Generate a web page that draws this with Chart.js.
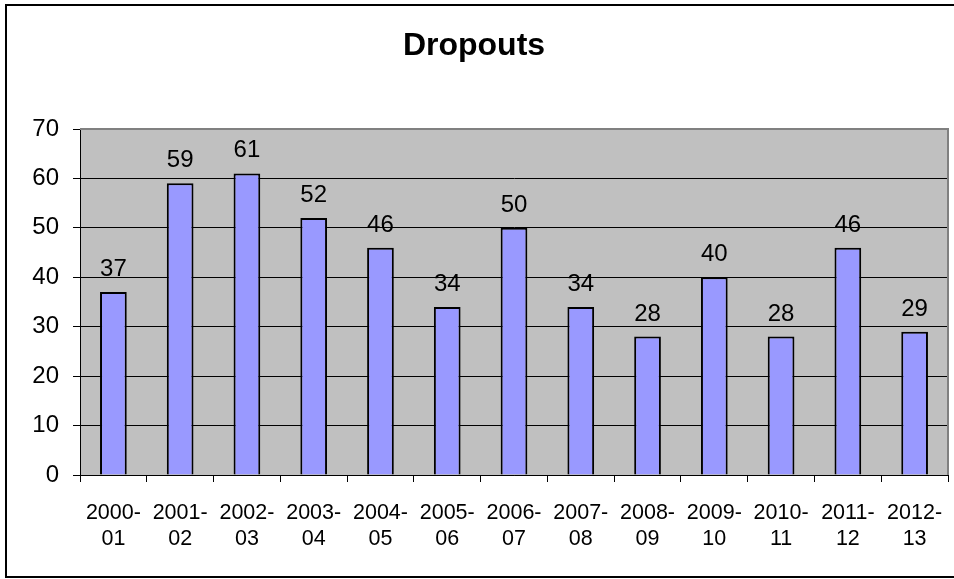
<!DOCTYPE html>
<html>
<head>
<meta charset="utf-8">
<script src="https://cdn.jsdelivr.net/npm/chart.js@4.4.1/dist/chart.umd.min.js"></script>
<style>
  html, body { margin: 0; padding: 0; background: #fff; }
  #wrap { width: 954px; height: 579px; position: relative; }
</style>
</head>
<body>
<div id="wrap"><canvas id="grafico"></canvas></div>
<script>
// datos
var years = [["2000-","01"],["2001-","02"],["2002-","03"],["2003-","04"],["2004-","05"],["2005-","06"],["2006-","07"],["2007-","08"],["2008-","09"],["2009-","10"],["2010-","11"],["2011-","12"],["2012-","13"]];
var dropouts = [37, 59, 61, 52, 46, 34, 50, 34, 28, 40, 28, 46, 29];
var yTicks = [0, 10, 20, 30, 40, 50, 60, 70];

var fuente = "Arial, 'Liberation Sans', sans-serif";

// fondo, marco y etiquetas de valores
var marco = {
  id: "marco",
  beforeDraw(chart) {
    const c = chart.ctx, a = chart.chartArea;
    c.save();
    c.fillStyle = "#fff";
    c.fillRect(0, 0, chart.width, chart.height);
    c.strokeStyle = "#000";
    c.lineWidth = 2;
    c.strokeRect(6, 5, 1000, 572);
    c.fillStyle = "#C0C0C0";
    c.fillRect(a.left, a.top, a.right - a.left, a.bottom - a.top);
    c.restore();
  },
  afterDraw(chart) {
    const c = chart.ctx, a = chart.chartArea;
    c.save();
    c.strokeStyle = "#808080";
    c.lineWidth = 2;
    c.beginPath();
    c.moveTo(a.left, a.top);
    c.lineTo(a.right, a.top);
    c.lineTo(a.right, a.bottom);
    c.stroke();
    c.restore();
  },
  afterDatasetsDraw(chart) {
    const c = chart.ctx;
    const meta = chart.getDatasetMeta(0);
    c.save();
    c.font = "24px " + fuente;
    c.fillStyle = "#000";
    c.textAlign = "center";
    c.textBaseline = "alphabetic";
    meta.data.forEach(function (bar, i) {
      c.fillText(String(dropouts[i]), bar.x, bar.y - 16);
    });
    c.restore();
  }
};

var ctx = document.getElementById("grafico").getContext("2d");
var chart = new Chart(ctx, {
  type: "bar",
  data: {
    labels: years,
    datasets: [{
      label: "Dropouts",
      data: dropouts,
      backgroundColor: "#9999FF",
      borderColor: "#000",
      borderWidth: 2,
      barPercentage: 0.4,
      categoryPercentage: 1
    }]
  },
  options: {
    responsive: true,
    maintainAspectRatio: false,
    animation: false,
    layout: { padding: { top: 0, left: 0, right: 6, bottom: 0 } },
    plugins: {
      legend: { display: false },
      tooltip: { enabled: false },
      title: {
        display: true,
        text: "Dropouts",
        color: "#000",
        font: { family: fuente, size: 32, weight: "bold", lineHeight: 1.2 },
        padding: { top: 27, bottom: 63.6 }
      }
    },
    scales: {
      x: {
        grid: { drawOnChartArea: false, drawTicks: true, tickLength: 7, tickColor: "#000", offset: true },
        border: { color: "#000", width: 1 },
        ticks: {
          color: "#000",
          maxRotation: 0,
          autoSkip: false,
          padding: 18,
          font: { family: fuente, size: 21.5, lineHeight: 1.2 }
        },
        afterFit(scale) {
          scale.height = 104;
          scale.paddingLeft = 0;
          scale.paddingRight = 0;
        }
      },
      y: {
        min: 0,
        max: 70,
        afterBuildTicks(scale) { scale.ticks = yTicks.map(v => ({ value: v })); },
        grid: {
          color: (c) => c.tick && c.tick.value === 70 ? "#808080" : "#000",
          lineWidth: 1,
          drawTicks: true,
          tickLength: 7,
          tickColor: "#000"
        },
        border: { color: "#000", width: 1 },
        ticks: {
          color: "#000",
          padding: 14,
          font: { family: fuente, size: 24 }
        },
        afterFit(scale) { scale.width = 80; }
      }
    }
  },
  plugins: [marco]
});
</script>
</body>
</html>
